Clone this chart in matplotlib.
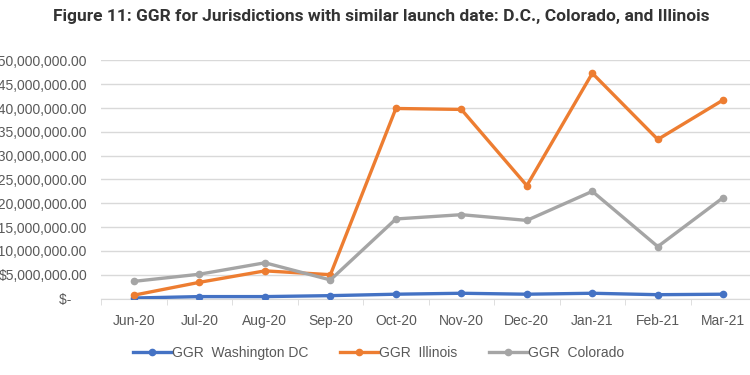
import matplotlib.pyplot as plt
from matplotlib.ticker import FuncFormatter

# Data (values in dollars)
months = ["Jun-20", "Jul-20", "Aug-20", "Sep-20", "Oct-20", "Nov-20",
          "Dec-20", "Jan-21", "Feb-21", "Mar-21"]
ggr_dc = [0.1e6, 0.4e6, 0.4e6, 0.6e6, 0.9e6, 1.1e6, 0.9e6, 1.1e6, 0.8e6, 0.9e6]
ggr_illinois = [0.7e6, 3.4e6, 5.8e6, 5.0e6, 39.9e6, 39.7e6, 23.7e6, 47.3e6, 33.4e6, 41.7e6]
ggr_colorado = [3.6e6, 5.1e6, 7.5e6, 3.9e6, 16.7e6, 17.6e6, 16.4e6, 22.5e6, 10.9e6, 21.2e6]
y_ticks = [0, 5e6, 10e6, 15e6, 20e6, 25e6, 30e6, 35e6, 40e6, 45e6, 50e6]

plt.rcParams["font.family"] = ["Liberation Sans", "DejaVu Sans"]

fig = plt.figure(figsize=(7.5, 3.75), dpi=100)
ax = fig.add_axes([0.135, 0.204, 0.873, 0.635])

x = range(len(months))
ax.plot(x, ggr_dc, color="#4472C4", lw=2.4, marker="o", ms=4.5, label="GGR  Washington DC", zorder=3)
ax.plot(x, ggr_illinois, color="#ED7D31", lw=2.4, marker="o", ms=4.5, label="GGR  Illinois", zorder=3)
ax.plot(x, ggr_colorado, color="#A5A5A5", lw=2.4, marker="o", ms=4.5, label="GGR  Colorado", zorder=3)

ax.set_xlim(-0.5, len(months) - 0.5)
ax.set_ylim(0, 50e6)
ax.set_yticks(y_ticks)


def money(v, pos):
    if v == 0:
        return "$-    "
    return "${:,.2f}".format(v)


ax.yaxis.set_major_formatter(FuncFormatter(money))
ax.set_xticks(list(x))
ax.set_xticklabels(months)
ax.set_xticks([i + 0.5 for i in range(-1, len(months))], minor=True)
ax.tick_params(axis="x", which="major", length=0, pad=11, labelsize=10, colors="#595959")
ax.tick_params(axis="x", which="minor", length=4, color="#D9D9D9")
ax.tick_params(axis="y", length=0, pad=10, labelsize=10, colors="#595959")

ax.grid(axis="y", color="#D9D9D9", lw=1)
ax.set_axisbelow(True)
for s in ["top", "right", "left"]:
    ax.spines[s].set_visible(False)
ax.spines["bottom"].set_color("#D9D9D9")

fig.suptitle("Figure 11: GGR for Jurisdictions with similar launch date: D.C., Colorado, and Illinois",
             x=0.508, y=0.977, fontsize=12.5, fontweight="semibold", color="#333333",
             family=["Roboto", "DejaVu Sans"])

fig.legend(loc="center", bbox_to_anchor=(0.505, 0.058), ncol=3, frameon=False,
           fontsize=10, handlelength=2.7, handletextpad=0.1, columnspacing=2.3,
           labelcolor="#595959")

fig.savefig("out.png", dpi=100)
